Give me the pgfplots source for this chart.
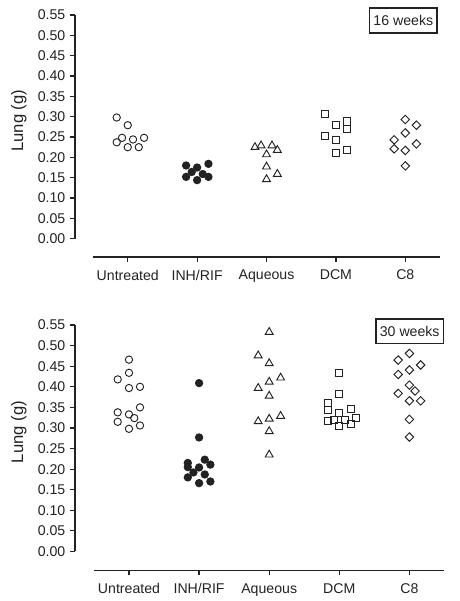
\documentclass[border=0pt]{standalone}
\usepackage{fontspec}
\setmainfont{Liberation Sans}
\usepackage{pgfplots}
\pgfplotsset{compat=1.18}
\definecolor{ink}{HTML}{222222}
\pgfplotsset{
  lungstyle/.style={
    scale only axis,
    clip=false,
    axis lines*=left,
    axis line style={draw=none},
    tick align=outside,
    major tick length=3.75pt,
    tick style={ink, line width=0.9pt},
    xtick={0,1,2,3,4},
    xticklabels={Untreated,INH/RIF,Aqueous,DCM,C8},
    ytick={0,0.05,...,0.56},
    yticklabel style={/pgf/number format/fixed,/pgf/number format/zerofill,/pgf/number format/precision=2},
    xticklabel style={yshift=-2.5pt},
    /pgf/number format/assume math mode=true,
    ticklabel style={font=\fontsize{10.6}{12}\selectfont, text=ink},
    ymax=0.55,
    xmax=4.5,
    every axis plot/.append style={only marks, ink},
  },
  mcirc/.style={mark=o, mark size=2.75pt, mark options={line width=0.7pt}},
  mfill/.style={mark=*, mark size=2.75pt, mark options={fill=ink, line width=0.7pt}},
  mtri/.style={mark=triangle, mark size=3.4pt, mark options={line width=0.7pt}},
  msq/.style={mark=square, mark size=2.7pt, mark options={line width=0.7pt}},
  mdia/.style={mark=square, mark size=2.25pt, mark options={rotate=45, line width=0.7pt}},
}
\begin{document}
\begin{tikzpicture}
\useasboundingbox (0,0) rectangle (345pt,450.75pt);
% ---------- 16 weeks ----------
\begin{axis}[lungstyle,
  at={(56.25pt,258pt)}, anchor=south west,
  width=273.75pt, height=181.5pt,
  xmin=-0.76, ymin=-0.045,
  ylabel={Lung (g)},
  ylabel style={font=\fontsize{12.5}{14}\selectfont, text=ink, at={(axis cs:-1.57,0.29)}, anchor=center, rotate=0},
]
\draw[ink, line width=1.1pt] (axis cs:-0.76,0) -- (axis cs:-0.76,0.55);
\draw[ink, line width=1.1pt] (axis cs:-0.5,-0.045) -- (axis cs:4.5,-0.045);
\addplot[mcirc] coordinates {(-0.159,0.298)(0,0.279)(-0.082,0.248)(0.235,0.248)(-0.159,0.237)(0.076,0.244)(0,0.225)(0.159,0.225)};
\addplot[mfill] coordinates {(0.841,0.180)(1.163,0.184)(1,0.175)(0.922,0.164)(1.081,0.159)(0.841,0.152)(1.163,0.152)(1,0.144)};
\addplot[mtri] coordinates {(1.834,0.225)(1.921,0.229)(2.079,0.229)(2.156,0.218)(2,0.207)(2,0.177)(2.156,0.159)(2,0.146)};
\addplot[msq] coordinates {(2.84,0.306)(3,0.279)(3.16,0.288)(3.16,0.269)(2.84,0.253)(3,0.243)(3,0.210)(3.16,0.218)};
\addplot[mdia] coordinates {(4,0.293)(4.16,0.279)(4,0.260)(3.84,0.243)(4.16,0.233)(3.84,0.221)(4,0.217)(4,0.179)};
\node[draw=ink, line width=1.2pt, anchor=north east, minimum width=50.7pt, minimum height=18.5pt, inner sep=2pt, font=\fontsize{10.6}{12}\selectfont, text=ink] at (axis cs:4.47,0.569) {16 weeks};
\end{axis}
% ---------- 30 weeks ----------
\begin{axis}[lungstyle,
  at={(56.25pt,22.95pt)}, anchor=south west,
  width=277.1pt, height=184pt,
  xmin=-0.77, ymin=-0.046,
  ylabel={Lung (g)},
  ylabel style={font=\fontsize{12.5}{14}\selectfont, text=ink, at={(axis cs:-1.57,0.29)}, anchor=center, rotate=0},
]
\draw[ink, line width=1.1pt] (axis cs:-0.77,0) -- (axis cs:-0.77,0.55);
\draw[ink, line width=1.1pt] (axis cs:-0.5,-0.046) -- (axis cs:4.5,-0.046);
\addplot[mcirc] coordinates {(0,0.466)(0,0.434)(-0.161,0.418)(0,0.397)(0.157,0.400)(0.157,0.350)(-0.161,0.338)(0,0.333)(0.076,0.324)(-0.161,0.315)(0.157,0.306)(0,0.298)};
\addplot[mfill] coordinates {(1,0.409)(1,0.277)(1.081,0.223)(0.839,0.215)(1.161,0.211)(0.839,0.205)(1,0.204)(0.919,0.192)(1.081,0.187)(0.839,0.180)(1.161,0.170)(1,0.166)};
\addplot[mtri] coordinates {(2,0.533)(1.843,0.476)(2,0.457)(2.163,0.422)(2,0.412)(1.843,0.397)(2,0.378)(2.163,0.329)(2,0.322)(1.843,0.316)(2,0.292)(2,0.235)};
\addplot[msq] coordinates {(3,0.433)(3,0.383)(2.839,0.360)(2.839,0.344)(3.163,0.347)(3,0.337)(3.243,0.325)(2.839,0.317)(2.92,0.320)(3.081,0.320)(3,0.305)(3.163,0.310)};
\addplot[mdia] coordinates {(4,0.481)(3.84,0.465)(4.16,0.453)(4,0.441)(3.84,0.430)(4,0.404)(4.08,0.390)(3.84,0.384)(4,0.366)(4.16,0.366)(4,0.321)(4,0.278)};
\node[draw=ink, line width=1.2pt, anchor=north east, minimum width=50.7pt, minimum height=18.5pt, inner sep=2pt, font=\fontsize{10.6}{12}\selectfont, text=ink] at (axis cs:4.498,0.567) {30 weeks};
\end{axis}
\end{tikzpicture}
\end{document}
